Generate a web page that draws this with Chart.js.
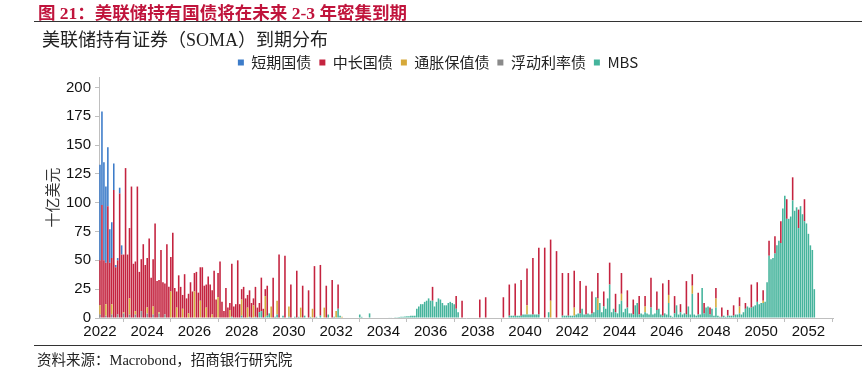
<!DOCTYPE html>
<html>
<head>
<meta charset="utf-8">
<script src="https://cdn.jsdelivr.net/npm/chart.js@4.4.1/dist/chart.umd.min.js"></script>
<style>
  body { margin: 0; width: 862px; height: 370px; background: #fff; position: relative; overflow: hidden; }
  #chart { position: absolute; left: 0; top: 0; }
  .fig-title { position: absolute; left: 38px; top: -1px; font: bold 17.5px "Liberation Serif", "Noto Sans CJK SC", serif; color: #c0143c; white-space: nowrap; }
  .rule { position: absolute; left: 34px; width: 828px; height: 0; border-top: 1.5px solid #333; }
  .sub-title { position: absolute; left: 42px; top: 25px; font: 18px "Liberation Serif", "Noto Sans CJK SC", serif; color: #222; white-space: nowrap; }
  .source { position: absolute; left: 37px; top: 348px; font: 14.5px "Liberation Serif", "Noto Sans CJK SC", serif; color: #222; white-space: nowrap; }
</style>
</head>
<body>
<canvas id="chart" width="862" height="370"></canvas>
<div class="fig-title">图 21：美联储持有国债将在未来 2-3 年密集到期</div>
<div class="rule" style="top:21px"></div>
<div class="sub-title">美联储持有证券（SOMA）到期分布</div>
<div class="rule" style="top:345px"></div>
<div class="source">资料来源：Macrobond，招商银行研究院</div>
<script>
// monthly maturity buckets, 2022-01 onwards, one line per year (billion USD)
const firstYear = 2022;
const monthCount = 373; // 2022-01 .. 2053-01
const yearTicks = ['2022', '2024', '2026', '2028', '2030', '2032', '2034', '2036',
  '2038', '2040', '2042', '2044', '2046', '2048', '2050', '2052'];
const seriesNames = ['短期国债', '中长国债', '通胀保值债', '浮动利率债', 'MBS'];

const bills = [83, 81, 85, 66, 51, 29, 31, 23, 2, 2, 5, 8];

const notesBonds = [
  39, 98, 50, 36, 97, 48, 40, 111, 44, 47, 108, 55,
  50, 130, 55, 61, 114, 47, 43, 114, 40, 45, 64, 46,
  43, 69, 35, 41, 82, 32, 28, 59, 31, 27, 64, 27,
  30, 74, 26, 14, 37, 27, 12, 38, 17, 17, 31, 23,
  16, 40, 22, 29, 44, 28, 20, 36, 29, 21, 41, 16,
  21, 49, 14, 6, 26, 9, 6, 46, 10, 12, 50, 12,
  9, 27, 17, 11, 23, 13, 6, 26, 9, 8, 29, 8,
  6, 26, 0, 0, 35, 0, 0, 55, 0, 0, 54, 0,
  0, 29, 0, 0, 41, 0, 0, 28, 0, 0, 24, 0,
  0, 45, 0, 0, 44, 0, 0, 28, 0, 0, 33, 0,
  0, 21, 0, 0, 0, 0, 0, 0, 0, 0, 0, 0,
  0, 0, 0, 0, 0, 0, 0, 0, 0, 0, 0, 0,
  0, 0, 0, 0, 0, 0, 0, 0, 0, 0, 0, 0,
  0, 0, 0, 0, 0, 0, 0, 0, 0, 0, 0, 0,
  0, 12, 0, 0, 0, 0, 0, 0, 0, 0, 0, 0,
  0, 11, 0, 0, 15, 0, 0, 0, 0, 0, 0, 0,
  0, 16, 0, 0, 18, 0, 0, 0, 0, 0, 0, 0,
  0, 18, 0, 0, 27, 0, 0, 28, 0, 0, 31, 0,
  0, 32, 0, 0, 49, 0, 0, 58, 0, 0, 61, 0,
  0, 53, 0, 0, 58, 0, 0, 37, 0, 0, 37, 0,
  0, 32, 0, 0, 28, 0, 0, 25, 0, 0, 19, 0,
  0, 22, 0, 0, 13, 0, 0, 19, 0, 0, 16, 0,
  0, 18, 0, 0, 15, 0, 0, 13, 0, 0, 16, 0,
  0, 9, 0, 0, 26, 0, 0, 16, 0, 0, 28, 0,
  0, 13, 0, 0, 15, 0, 0, 7, 0, 0, 29, 0,
  0, 10, 0, 0, 19, 0, 0, 9, 0, 0, 6, 0,
  0, 9, 0, 0, 8, 0, 0, 5, 0, 0, 9, 0,
  0, 8, 0, 0, 5, 0, 0, 20, 0, 0, 17, 0,
  0, 9, 0, 0, 13, 0, 0, 15, 0, 0, 19, 0,
  0, 17, 0, 0, 20, 0, 0, 16, 0, 0, 19, 0
];

const tips = [
  8, 0, 0, 10, 0, 0, 9, 0, 0, 0, 0, 0,
  1, 0, 0, 14, 0, 0, 3, 0, 0, 0, 0, 0,
  5, 0, 0, 7, 0, 0, 1, 0, 0, 0, 0, 0,
  23, 0, 0, 9, 0, 0, 8, 0, 0, 4, 0, 0,
  23, 0, 0, 15, 0, 0, 9, 0, 0, 3, 0, 0,
  18, 0, 0, 0, 0, 0, 7, 0, 0, 0, 0, 0,
  14, 0, 0, 9, 0, 0, 11, 0, 0, 0, 0, 0,
  18, 0, 0, 10, 0, 0, 12, 0, 0, 0, 0, 0,
  9, 0, 0, 0, 0, 0, 9, 0, 0, 0, 0, 0,
  8, 0, 0, 0, 0, 0, 9, 0, 0, 0, 0, 0,
  6, 0, 0, 1, 0, 0, 0, 0, 0, 0, 0, 0,
  0, 0, 0, 0, 0, 0, 0, 0, 0, 0, 0, 0,
  0, 0, 0, 0, 0, 0, 0, 0, 0, 0, 0, 0,
  0, 0, 0, 0, 0, 0, 0, 0, 0, 0, 0, 0,
  0, 0, 0, 0, 0, 0, 0, 0, 0, 0, 0, 0,
  0, 0, 0, 0, 0, 0, 0, 0, 0, 0, 0, 0,
  0, 0, 0, 0, 0, 0, 0, 0, 0, 0, 0, 0,
  0, 0, 0, 0, 0, 0, 0, 0, 0, 0, 0, 0,
  0, 8, 0, 0, 0, 0, 0, 0, 0, 0, 0, 0,
  0, 15, 0, 0, 0, 0, 0, 0, 0, 0, 0, 0,
  0, 7, 0, 0, 0, 0, 0, 0, 0, 0, 0, 0,
  0, 10, 0, 0, 0, 0, 0, 0, 0, 0, 0, 0,
  0, 6, 0, 0, 0, 0, 0, 0, 0, 0, 0, 0,
  0, 5, 0, 0, 0, 0, 0, 0, 0, 0, 0, 0,
  0, 7, 0, 0, 0, 0, 0, 0, 0, 0, 0, 0,
  0, 7, 0, 0, 0, 0, 0, 0, 0, 0, 0, 0,
  0, 8, 0, 0, 0, 0, 0, 0, 0, 0, 0, 0,
  0, 6, 0, 0, 0, 0, 0, 0, 0, 0, 0, 0,
  0, 2, 0, 0, 0, 0, 0, 0, 0, 0, 0, 0
];

const floaters = [
  3, 0, 0, 2, 0, 0, 3, 0, 0, 3, 0, 0,
  4, 0, 0, 3, 0, 0, 3, 0, 0, 6, 0, 0,
  4, 0, 0, 3, 0, 0, 4, 0, 0, 3, 0, 0
];

const mbs = [
  0, 0, 0, 0, 0, 0, 0, 0, 0, 0, 0, 0,
  0, 0, 0, 0, 0, 0, 0, 0, 0, 0, 0, 0,
  0, 0, 0, 0, 0, 0, 0, 0, 0, 0, 0, 0,
  0, 0, 0, 0, 0, 0, 0, 0, 0, 0, 0, 0,
  0, 0, 0, 0, 0, 0, 0, 0, 0, 0, 0, 0,
  0, 0, 0, 0, 0, 0, 0, 1, 0, 0, 0, 0,
  2, 0, 0, 0, 1, 0, 0, 1, 0, 5, 6, 0,
  1, 2, 4, 0, 0, 1, 3, 0, 0, 2, 0, 0,
  1, 0, 0, 1, 0, 1, 0, 0, 2, 0, 0, 1,
  0, 0, 1, 0, 2, 0, 0, 0, 3, 0, 0, 1,
  0, 8, 2, 0, 0, 0, 0, 0, 0, 0, 0, 0,
  3, 1, 0, 0, 0, 4, 0, 0, 0, 0, 0, 0,
  0, 0, 0, 0.5, 0.5, 0.5, 0.7, 0.7, 0.8, 1, 1, 1.2,
  1.5, 1.5, 2, 2, 2, 8, 10, 12, 12, 14, 15, 17,
  15, 15, 10, 14, 17, 16, 13, 11, 11, 13, 14, 13,
  12, 8, 5, 0, 0, 0, 0, 0, 0, 0, 0, 0,
  0, 0, 0, 0, 0, 0, 0, 0, 0, 0, 0, 0,
  0, 0, 0, 0, 2, 2, 2, 2, 2, 2, 2, 3,
  3, 3, 3, 3, 3, 3, 3, 3, 0, 0, 0, 0,
  5, 0, 0, 0, 0, 0, 0, 2, 2, 2, 2, 2,
  2, 2, 3, 4, 4, 8, 3, 3, 4, 3, 4, 5,
  18, 7, 13, 5, 10, 8, 17, 29, 5, 8, 5, 4,
  12, 15, 5, 8, 9, 4, 4, 3, 11, 13, 3, 4,
  3, 5, 4, 3, 9, 3, 4, 7, 8, 3, 2, 4,
  3, 13, 2, 1, 4, 11, 3, 5, 3, 4, 3, 10,
  3, 21, 3, 2, 3, 3, 26, 4, 9, 10, 3, 8,
  2, 9, 2, 1, 1, 2, 1, 2, 2, 2, 2, 3,
  3, 4, 3, 5, 8, 10, 9, 9, 10, 11, 14, 12,
  13, 13, 14, 31, 54, 51, 52, 56, 63, 67, 65, 95,
  106, 86, 86, 88, 102, 93, 96, 78, 97, 90, 84, 82,
  73, 63, 59, 25
];

const colors = ['#3d7cc9', '#c4233f', '#d6a93a', '#8a8a8a', '#45b49c'];

const labels = [];
for (let i = 0; i < monthCount; i++) {
  const y = firstYear + Math.floor(i / 12);
  labels.push(y + '-' + String(i % 12 + 1).padStart(2, '0'));
}

const cjk = '"Noto Sans CJK SC", sans-serif';
const series = [bills, notesBonds, tips, floaters, mbs];
// stack bottom -> top: MBS, FRN, TIPS, notes/bonds, bills
const stackOrder = [5, 4, 3, 2, 1];

// pull the plot a little closer to the legend
const legendGap = {
  id: 'legendGap',
  beforeLayout(chart) {
    const legend = chart.legend;
    if (!legend || legend._gapPatched) return;
    const fit = legend.fit;
    legend.fit = function () {
      fit.call(this);
      this.height -= 3;
    };
    legend._gapPatched = true;
  },
};

new Chart(document.getElementById('chart'), {
  type: 'bar',
  data: {
    labels: labels,
    datasets: series.map((d, k) => ({
      label: seriesNames[k],
      data: d,
      backgroundColor: colors[k],
      borderWidth: 0,
      order: stackOrder[k],
      categoryPercentage: 1.0,
      barPercentage: 0.8,
    })),
  },
  plugins: [legendGap],
  options: {
    responsive: false,
    animation: false,
    layout: { padding: { top: 47, left: 43, right: 29, bottom: 30 } },
    plugins: {
      legend: {
        position: 'top',
        labels: {
          boxWidth: 6, boxHeight: 6, padding: 8, color: '#222',
          font: { family: cjk, size: 15 },
          sort: (a, b) => a.datasetIndex - b.datasetIndex,
        },
      },
      tooltip: { enabled: false },
    },
    scales: {
      x: {
        stacked: true,
        grid: { display: true, drawOnChartArea: false, drawTicks: true, tickLength: 4, color: '#bfbfbf' },
        border: { color: '#bfbfbf' },
        ticks: {
          autoSkip: false, maxRotation: 0, padding: 1, color: '#111',
          font: { family: '"Liberation Sans Narrow", "Liberation Sans", sans-serif', size: 15 },
          callback: (v, i) => (i % 24 === 0 ? yearTicks[i / 24] : null),
        },
        afterFit: (s) => { s.height = 22; },
      },
      y: {
        stacked: true,
        min: 0,
        max: 209,
        grid: { display: true, drawOnChartArea: false, drawTicks: true, tickLength: 4, color: '#bfbfbf' },
        border: { color: '#bfbfbf' },
        ticks: {
          stepSize: 25, padding: 4, color: '#111', autoSkip: false, includeBounds: false,
          font: { family: '"Liberation Sans", Arial, sans-serif', size: 15 },
          callback: (v) => (v % 25 === 0 ? v : null),
        },
        title: { display: true, text: '十亿美元', color: '#333', font: { family: cjk, size: 15 }, padding: { top: 0, bottom: 2 } },
        afterFit: (s) => { s.width = 56; },
      },
    },
  },
});
</script>
</body>
</html>
